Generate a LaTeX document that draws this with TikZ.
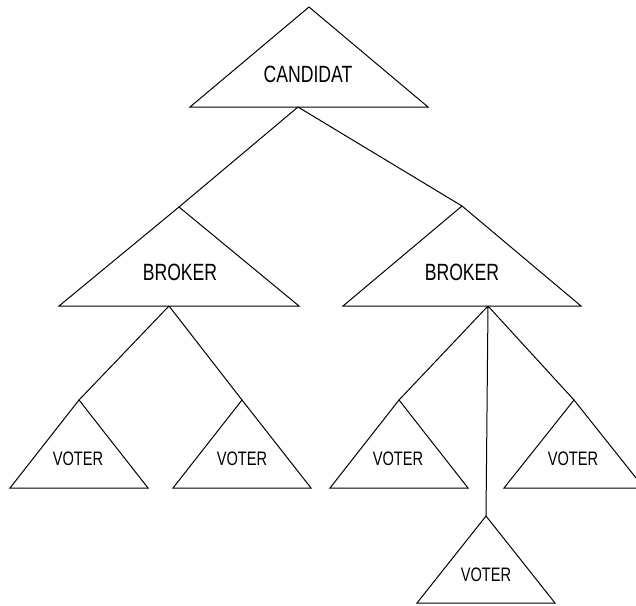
\documentclass[tikz,border=0pt]{standalone}
\usepackage{fontspec}
\setmainfont{Liberation Sans}[FakeStretch=0.75]

\begin{document}
\begin{tikzpicture}[x=1pt,y=-1pt,line width=1pt,
  big/.style={font=\fontsize{23.5}{28}\selectfont,anchor=base,inner sep=0pt},
  small/.style={font=\fontsize{19.5}{23}\selectfont,anchor=base,inner sep=0pt}]
  \useasboundingbox (0,0) rectangle (636,605);

  % triangles: name/apex x/apex y/half width/height
  \foreach \n/\x/\y/\w/\h in {cand/309/7/119/100,
                               brokerL/179/207/120/99, brokerR/462/206/119/100,
                               voterA/79/400/69/88, voterB/242/400/69/88,
                               voterC/399/400/69/88, voterD/574/400/70/88,
                               voterE/486/516/69/87}
    \draw (\x,\y) coordinate (\n-top) -- ++(-\w,\h) -- ++(2*\w,0) -- cycle;

  \node[big]   (candL)    at (308,82)  {CANDIDAT};
  \node[big]   (brokerLL) at (180,280) {BROKER};
  \node[big]   (brokerRL) at (462,280) {BROKER};
  \node[small] (voterAL)  at (78,465)  {VOTER};
  \node[small] (voterBL)  at (242,465) {VOTER};
  \node[small] (voterCL)  at (398,465) {VOTER};
  \node[small] (voterDL)  at (573,465) {VOTER};
  \node[small] (voterEL)  at (486,581) {VOTER};

  \coordinate (cand-bot)    at (298,107);
  \coordinate (brokerL-bot) at (169,306);
  \coordinate (brokerR-bot) at (488,306);

  \draw (cand-bot)    -- (brokerL-top)
        (cand-bot)    -- (brokerR-top)
        (brokerL-bot) -- (voterA-top)
        (brokerL-bot) -- (voterB-top)
        (brokerR-bot) -- (voterC-top)
        (brokerR-bot) -- (voterD-top)
        (brokerR-bot) -- (voterE-top);
\end{tikzpicture}
\end{document}
